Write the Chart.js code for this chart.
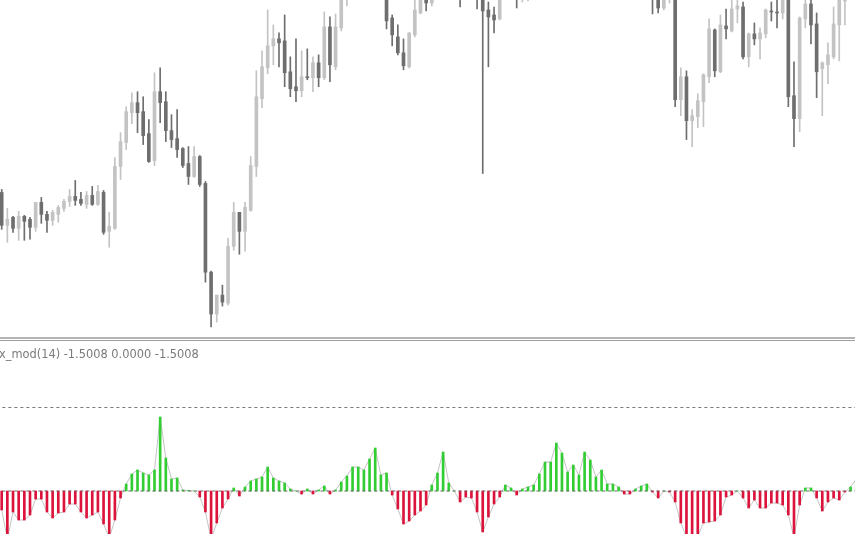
<!DOCTYPE html>
<html><head><meta charset="utf-8">
<script src="https://cdn.jsdelivr.net/npm/chart.js@4/dist/chart.umd.min.js"></script>
<style>
html,body{margin:0;padding:0;background:#fff;width:855px;height:534px;overflow:hidden}
body{position:relative}
#c1{position:absolute;left:0;top:0}
#c2{position:absolute;left:0;top:342px}
#sep1{position:absolute;left:0;top:337px;width:855px;height:2px;background:#b4b4b4}
#sep2{position:absolute;left:0;top:340px;width:855px;height:1px;background:#a0a0a0}
#lbl{position:absolute;left:-1px;top:349px;font-family:'DejaVu Sans',sans-serif;font-size:11.4px;line-height:11px;color:#7a7a7a;white-space:nowrap}
</style></head>
<body>
<canvas id="c1" width="855" height="337"></canvas>
<div id="sep1"></div><div id="sep2"></div>
<canvas id="c2" width="855" height="192"></canvas>
<div id="lbl"></div>
<script>
// ---- price candles (one per bar, left to right) ----
const candleOpen = [
1.3207,1.3174,1.3182,1.3171,1.3183,1.3180,1.3172,1.3197,1.3185,1.3179,
1.3185,1.3191,1.3198,1.3203,1.3200,1.3195,1.3204,1.3195,1.3207,1.3168,
1.3171,1.3233,1.3257,1.3287,1.3297,1.3288,1.3266,1.3239,1.3308,1.3298,
1.3269,1.3261,1.3251,1.3236,1.3223,1.3243,1.3216,1.3127,1.3085,1.3104,
1.3096,1.3153,1.3187,1.3168,1.3189,1.3233,1.3301,1.3332,1.3354,1.3361,
1.3359,1.3328,1.3313,1.3309,1.3323,1.3322,1.3337,1.3322,1.3373,1.3333,
1.3372,1.3405,1.3420,1.3440,1.3455,1.3448,1.3470,1.3460,1.3412,1.3382,
1.3363,1.3347,1.3333,1.3365,1.3387,1.3408,1.3397,1.3408,1.3420,1.3435,
1.3445,1.3430,1.3412,1.3425,1.3418,1.3410,1.3390,1.3385,1.3381,1.3405,
1.3425,1.3420,1.3408,1.3415,1.3425,1.3440,1.3455,1.3475,1.3485,1.3510,
1.3500,1.3495,1.3512,1.3504,1.3525,1.3518,1.3508,1.3522,1.3515,1.3520,
1.3512,1.3495,1.3480,1.3488,1.3492,1.3470,1.3420,1.3392,1.3405,1.3410,
1.3300,1.3323,1.3279,1.3283,1.3298,1.3323,1.3370,1.3328,1.3374,1.3369,
1.3391,1.3393,1.3343,1.3366,1.3361,1.3366,1.3388,1.3388,1.3387,1.3405,
1.3304,1.3281,1.3381,1.3396,1.3376,1.3331,1.3335,1.3343,1.3375,1.3399,1.3410,1.3418];
const candleHigh = [
1.3210,1.3191,1.3183,1.3188,1.3184,1.3182,1.3197,1.3202,1.3188,1.3189,
1.3194,1.3200,1.3210,1.3219,1.3207,1.3208,1.3213,1.3214,1.3209,1.3187,
1.3242,1.3267,1.3293,1.3307,1.3308,1.3303,1.3280,1.3327,1.3332,1.3308,
1.3285,1.3290,1.3252,1.3253,1.3253,1.3244,1.3218,1.3128,1.3104,1.3114,
1.3161,1.3197,1.3187,1.3197,1.3243,1.3329,1.3349,1.3390,1.3375,1.3367,
1.3385,1.3343,1.3361,1.3349,1.3351,1.3343,1.3345,1.3388,1.3383,1.3386,
1.3415,1.3425,1.3448,1.3462,1.3465,1.3478,1.3482,1.3466,1.3415,1.3385,
1.3375,1.3361,1.3367,1.3400,1.3410,1.3412,1.3410,1.3425,1.3440,1.3452,
1.3450,1.3435,1.3430,1.3432,1.3422,1.3420,1.3398,1.3393,1.3410,1.3430,
1.3435,1.3428,1.3420,1.3430,1.3445,1.3460,1.3480,1.3492,1.3515,1.3518,
1.3508,1.3518,1.3520,1.3530,1.3535,1.3525,1.3528,1.3530,1.3526,1.3525,
1.3516,1.3498,1.3492,1.3498,1.3495,1.3475,1.3425,1.3410,1.3415,1.3415,
1.3332,1.3329,1.3290,1.3306,1.3326,1.3381,1.3371,1.3385,1.3391,1.3402,
1.3403,1.3398,1.3367,1.3377,1.3372,1.3391,1.3398,1.3400,1.3408,1.3410,
1.3338,1.3383,1.3402,1.3401,1.3387,1.3338,1.3357,1.3393,1.3408,1.3415,1.3422,1.3430];
const candleLow = [
1.3170,1.3157,1.3167,1.3159,1.3159,1.3160,1.3168,1.3176,1.3167,1.3174,
1.3177,1.3188,1.3193,1.3194,1.3194,1.3191,1.3194,1.3194,1.3165,1.3152,
1.3170,1.3220,1.3250,1.3276,1.3267,1.3255,1.3237,1.3234,1.3277,1.3258,
1.3252,1.3242,1.3232,1.3215,1.3222,1.3213,1.3117,1.3072,1.3077,1.3093,
1.3094,1.3149,1.3145,1.3148,1.3188,1.3223,1.3292,1.3326,1.3335,1.3333,
1.3313,1.3303,1.3298,1.3303,1.3320,1.3308,1.3313,1.3320,1.3318,1.3330,
1.3369,1.3394,1.3415,1.3435,1.3442,1.3444,1.3452,1.3408,1.3371,1.3354,
1.3345,1.3330,1.3332,1.3363,1.3386,1.3389,1.3394,1.3404,1.3415,1.3430,
1.3425,1.3393,1.3406,1.3410,1.3391,1.3226,1.3333,1.3367,1.3380,1.3402,
1.3412,1.3392,1.3398,1.3399,1.3420,1.3435,1.3450,1.3470,1.3480,1.3492,
1.3488,1.3490,1.3498,1.3500,1.3510,1.3500,1.3502,1.3508,1.3510,1.3504,
1.3490,1.3470,1.3474,1.3482,1.3460,1.3386,1.3387,1.3390,1.3397,1.3293,
1.3284,1.3260,1.3253,1.3272,1.3273,1.3317,1.3323,1.3327,1.3361,1.3368,
1.3377,1.3341,1.3333,1.3355,1.3341,1.3362,1.3379,1.3372,1.3381,1.3293,
1.3253,1.3268,1.3372,1.3356,1.3302,1.3284,1.3316,1.3341,1.3339,1.3375,1.3403,1.3412];
const candleClose = [
1.3174,1.3180,1.3171,1.3183,1.3178,1.3172,1.3197,1.3185,1.3179,1.3187,
1.3192,1.3198,1.3203,1.3199,1.3196,1.3204,1.3195,1.3208,1.3167,1.3173,
1.3233,1.3258,1.3288,1.3297,1.3287,1.3264,1.3238,1.3308,1.3297,1.3269,
1.3260,1.3250,1.3234,1.3223,1.3243,1.3215,1.3127,1.3085,1.3104,1.3097,
1.3153,1.3187,1.3168,1.3192,1.3234,1.3303,1.3333,1.3354,1.3361,1.3357,
1.3327,1.3311,1.3309,1.3323,1.3322,1.3337,1.3322,1.3373,1.3335,1.3373,
1.3408,1.3420,1.3440,1.3455,1.3448,1.3470,1.3460,1.3412,1.3379,1.3365,
1.3347,1.3334,1.3367,1.3390,1.3405,1.3397,1.3406,1.3420,1.3435,1.3445,
1.3430,1.3412,1.3425,1.3418,1.3410,1.3389,1.3383,1.3380,1.3405,1.3425,
1.3420,1.3408,1.3415,1.3425,1.3440,1.3455,1.3475,1.3485,1.3510,1.3500,
1.3495,1.3512,1.3504,1.3525,1.3518,1.3508,1.3522,1.3515,1.3520,1.3512,
1.3495,1.3480,1.3488,1.3492,1.3470,1.3420,1.3392,1.3405,1.3410,1.3300,
1.3323,1.3279,1.3284,1.3299,1.3325,1.3371,1.3329,1.3375,1.3371,1.3391,
1.3394,1.3343,1.3366,1.3361,1.3367,1.3390,1.3388,1.3387,1.3403,1.3303,
1.3281,1.3382,1.3396,1.3375,1.3328,1.3337,1.3345,1.3376,1.3403,1.3410,1.3418,1.3425];

// ---- oscillator values (same bars) ----
const oscValues = [
-1.9,-4.8,-2.1,-2.9,-2.9,-2.4,-0.8,-0.8,-2.1,-2.7,
-2.2,-2.1,-1.3,-1.3,-2.1,-2.7,-2.4,-2.1,-3.3,-4.7,
-2.9,-0.7,0.7,1.7,2.1,1.8,1.6,2.1,7.4,3.3,
1.2,1.3,0.1,0.05,0.0,-0.6,-2.1,-4.8,-3.2,-1.7,
-0.8,0.3,-0.5,0.4,1.0,1.2,1.4,2.4,1.3,1.0,
0.8,0.2,0.0,-0.3,0.2,-0.3,0.1,0.5,-0.3,0.1,
0.9,1.5,2.4,2.4,2.1,3.2,4.3,1.6,1.8,-0.4,
-1.8,-3.3,-3.0,-2.4,-2.0,-1.4,0.6,1.8,3.9,0.8,
0.0,-1.1,-0.6,-0.7,-2.1,-4.1,-2.6,-1.3,-0.6,0.6,
0.3,-0.4,0.2,0.4,0.6,1.7,2.9,2.9,4.8,3.8,
1.9,2.6,1.6,3.9,3.1,1.4,2.1,0.7,0.7,0.4,
-0.3,-0.3,0.2,0.5,0.7,-0.1,-0.7,0.0,-0.1,-1.1,
-3.2,-4.6,-4.8,-4.5,-3.2,-3.1,-3.0,-2.4,-0.6,-0.4,
0.0,-0.7,-1.7,-0.9,-1.7,-1.7,-1.2,-1.2,-1.4,-2.4,
-4.6,-1.4,0.3,0.3,-0.7,-2.0,-1.1,-0.7,-0.9,-0.1,0.4,1.2];
const oscLevels = [0, 8.35];
const labelText = 'x_mod(14) -1.5008 0.0000 -1.5008';

// ---- view ----
const X_MIN = -0.30, X_MAX = 150.78;
const PRICE_MIN = 1.3062, PRICE_MAX = 1.3400;
const OSC_MIN = -4.3, OSC_MAX = 14.9;
const BULL = '#c3c3c3', BEAR = '#6e6e6e';
const UP = '#32cd32', DOWN = '#dc143c';

document.getElementById('lbl').textContent = labelText;

const idx = candleOpen.map((_, i) => i);
const wickData = idx.map(i => ({x: i, y: [candleLow[i], candleHigh[i]]}));
const bodyData = idx.map(i => ({x: i, y: [candleOpen[i], candleClose[i]]}));
const candleColor = idx.map(i => candleClose[i] > candleOpen[i] ? BULL : BEAR);

const common = {
  responsive: false, animation: false, devicePixelRatio: 1,
  layout: {padding: 0},
  plugins: {legend: {display: false}, tooltip: {enabled: false}, title: {display: false}},
  events: []
};

new Chart(document.getElementById('c1'), {
  type: 'bar',
  data: {datasets: [
    {data: bodyData, backgroundColor: candleColor, barThickness: 3, grouped: false, minBarLength: 1, order: 0},
    {data: wickData, backgroundColor: candleColor, barThickness: 1, grouped: false, order: 1}
  ]},
  options: Object.assign({}, common, {
    scales: {
      x: {type: 'linear', min: X_MIN, max: X_MAX, display: false, offset: false},
      y: {type: 'linear', min: PRICE_MIN, max: PRICE_MAX, display: false}
    }
  })
});

const oscIdx = oscValues.map((_, i) => i);
const histData = oscIdx.map(i => ({x: i, y: oscValues[i]}));
const histColor = oscValues.map(v => v >= 0 ? UP : DOWN);
const lineData = oscIdx.map(i => ({x: i, y: oscValues[i]}));
const levelSets = oscLevels.map(l => ({
  type: 'line', data: [{x: -2, y: l}, {x: 155, y: l}],
  borderColor: l === 0 ? '#6a6a6a' : '#7a7a7a', borderWidth: 1, borderDash: [3, 3],
  pointRadius: 0, order: 0
}));

new Chart(document.getElementById('c2'), {
  type: 'bar',
  data: {datasets: [
    ...levelSets,
    {type: 'bar', data: histData, backgroundColor: histColor, barThickness: 2, grouped: false, order: 1},
    {type: 'line', data: lineData, borderColor: '#c4c4c4', borderWidth: 1, pointRadius: 0, tension: 0, order: 2}
  ]},
  options: Object.assign({}, common, {
    scales: {
      x: {type: 'linear', min: X_MIN, max: X_MAX, display: false, offset: false},
      y: {type: 'linear', min: OSC_MIN, max: OSC_MAX, display: false}
    }
  })
});
</script>
</body></html>
